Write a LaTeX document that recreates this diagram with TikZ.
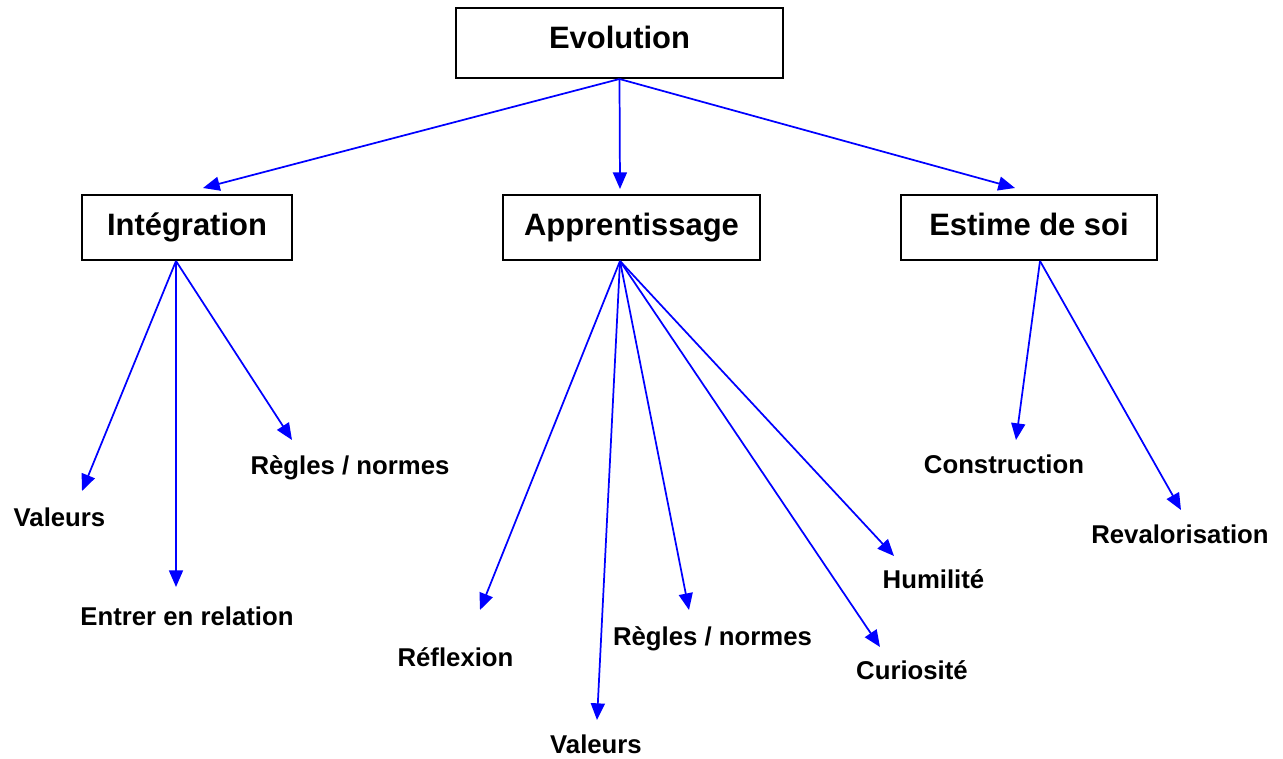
\documentclass[tikz,border=0pt]{standalone}
\usepackage{fontspec}
\setmainfont{Liberation Sans}
\usetikzlibrary{arrows.meta,calc}
\tikzset{
  topbox/.style={draw=black, line width=1.5pt, inner sep=0pt, fill=white,
    font=\fontsize{23.2pt}{26pt}\selectfont\bfseries},
  headbox/.style={topbox, minimum width=245.25pt, minimum height=52.5pt,
    text height=15pt, text depth=7.5pt},
  subbox/.style={topbox, minimum height=48.75pt, text height=16pt, text depth=4.75pt},
  leaf/.style={inner sep=0pt, anchor=base, font=\fontsize{19.3pt}{22pt}\selectfont\bfseries},
  link/.style={draw=blue, line width=1.3pt, -{Triangle[length=12.5pt,width=10.5pt]}}
}
\begin{document}
\begin{tikzpicture}[x=0.75pt, y=-0.75pt]
\useasboundingbox (0,0) rectangle (1283,758);

% main boxes
\node[headbox] (evo) at (619.5,43) {Evolution};
\node[subbox, minimum width=157.5pt] (int) at (187,227.5) {Intégration};
\node[subbox, minimum width=192.75pt] (app) at (631.5,227.5) {Apprentissage};
\node[subbox, minimum width=192pt] (est) at (1029,227.5) {Estime de soi};

% arrow end points
\coordinate (t1) at (203,188);
\coordinate (t2) at (620,189);
\coordinate (t3) at (1015,188);
\coordinate (i0) at ($(int.south)+(-11,0)$);
\coordinate (i1) at (82,491);
\coordinate (i2) at (176,587);
\coordinate (i3) at (292,440);
\coordinate (a0) at ($(app.south)+(-11.5,0)$);
\coordinate (a1) at (480,610);
\coordinate (a2) at (597,720);
\coordinate (a3) at (689,610);
\coordinate (a4) at (880,647);
\coordinate (a5) at (894,556);
\coordinate (e0) at ($(est.south)+(11,0)$);
\coordinate (e1) at (1016,440);
\coordinate (e2) at (1181,510);

% labels (placed by baseline)
\node[leaf] (l1) at (59.5,526) {Valeurs};
\node[leaf] (l2) at (187,625) {Entrer en relation};
\node[leaf] (l3) at (350,474) {Règles / normes};
\node[leaf] (l4) at (455.5,666) {Réflexion};
\node[leaf] (l5) at (596,753) {Valeurs};
\node[leaf] (l6) at (712.5,645) {Règles / normes};
\node[leaf] (l7) at (912,679) {Curiosité};
\node[leaf] (l8) at (933.5,588) {Humilité};
\node[leaf] (l9) at (1004,473) {Construction};
\node[leaf] (l10) at (1180,543) {Revalorisation};

% connectors
\draw[link] (evo.south) -- (t1);
\draw[link] (evo.south) -- (t2);
\draw[link] (evo.south) -- (t3);
\draw[link] (i0) -- (i1);
\draw[link] (i0) -- (i2);
\draw[link] (i0) -- (i3);
\draw[link] (a0) -- (a1);
\draw[link] (a0) -- (a2);
\draw[link] (a0) -- (a3);
\draw[link] (a0) -- (a4);
\draw[link] (a0) -- (a5);
\draw[link] (e0) -- (e1);
\draw[link] (e0) -- (e2);
\end{tikzpicture}
\end{document}
